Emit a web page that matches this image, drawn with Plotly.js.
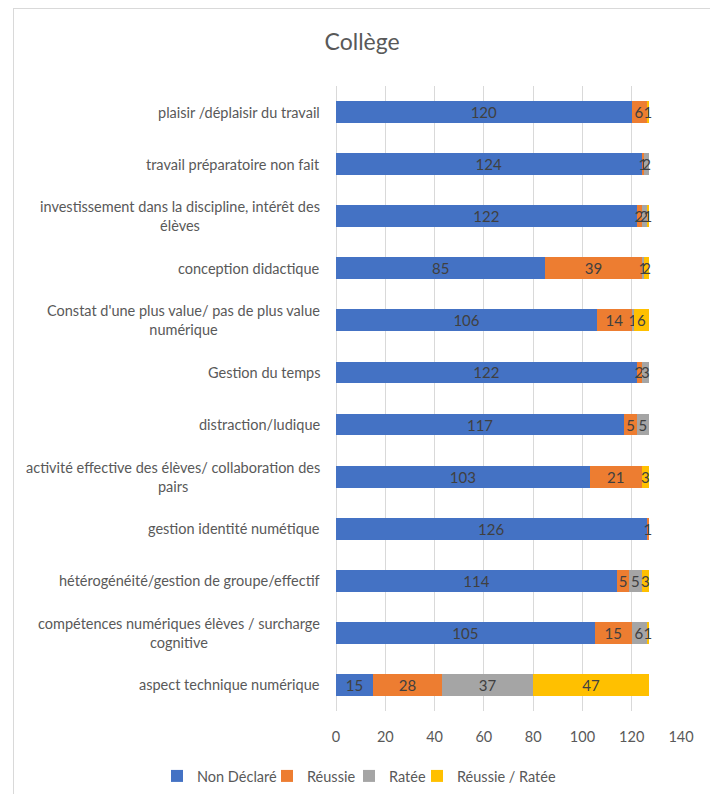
<!DOCTYPE html>
<html>
<head>
<meta charset="utf-8">
<script src="https://cdn.plot.ly/plotly-3.0.1.min.js"></script>
<style>
  html, body { margin: 0; padding: 0; background: #fff; }
  #frame { position: absolute; left: 13px; top: 8px; width: 760px; height: 840px;
           border-left: 1px solid #d9d9d9; border-top: 1px solid #d9d9d9; }
  #chart { position: absolute; left: 0; top: 0; width: 710px; height: 794px; }
</style>
</head>
<body>
<div id="frame"></div>
<div id="chart"></div>
<script>
// Categories, top to bottom
const categories = [
  "plaisir /déplaisir du travail",
  "travail préparatoire non fait",
  "investissement dans la discipline, intérêt des<br>élèves",
  "conception didactique",
  "Constat d'une plus value/ pas de plus value<br>numérique",
  "Gestion du temps",
  "distraction/ludique",
  "activité effective des élèves/ collaboration des<br>pairs",
  "gestion identité numétique",
  "hétérogénéité/gestion de groupe/effectif",
  "compétences numériques élèves / surcharge<br>cognitive",
  "aspect technique numérique"
];
const nonDeclare     = [120, 124, 122, 85, 106, 122, 117, 103, 126, 114, 105, 15];
const reussie        = [6,   1,   2,   39, 14,  2,   5,   21,  1,   5,   15,  28];
const ratee          = [0,   2,   2,   1,  1,   3,   5,   0,   0,   5,   6,   37];
const reussieRatee   = [1,   0,   1,   2,  6,   0,   0,   3,   0,   3,   1,   47];
const seriesNames = ["Non Déclaré", "Réussie", "Ratée", "Réussie / Ratée"];
const seriesColors = ["#4472C4", "#ED7D31", "#A5A5A5", "#FFC000"];
const xTicks = [0, 20, 40, 60, 80, 100, 120, 140];

const FONT = "Lato, Liberation Sans, Arial, sans-serif";
const allSeries = [nonDeclare, reussie, ratee, reussieRatee];
const ids = categories.map((c, i) => "c" + i);
const legendIds = ["legend", "legend2", "legend3", "legend4"];
const legendPx = [157, 267, 349, 417];   // left edge of each legend entry, in page pixels

const traces = allSeries.map((vals, k) => ({
  type: "bar",
  orientation: "h",
  name: seriesNames[k],
  legend: legendIds[k],
  x: vals,
  y: ids,
  marker: { color: seriesColors[k] },
  text: vals.map(String),
  textposition: "inside",
  insidetextanchor: "middle",
  textangle: 0,
  textfont: { family: FONT, size: 15, color: "#404040" },
  hoverinfo: "x+name"
}));

const annotations = categories.map((c, i) => ({
  x: 0, xref: "paper", xanchor: "right", xshift: -14,
  y: ids[i], yref: "y", yanchor: "middle",
  text: c, showarrow: false, align: "center",
  font: { family: FONT, size: 14.5, color: "#595959" }
}));

const layout = {
  width: 710, height: 794,
  paper_bgcolor: "rgba(0,0,0,0)",
  plot_bgcolor: "rgba(0,0,0,0)",
  margin: { l: 336, r: 29, t: 86, b: 83, autoexpand: false },
  barmode: "stack",
  bargap: 0.58,
  title: {
    text: "Collège",
    font: { family: FONT, size: 23, color: "#595959" },
    x: 0.51, xref: "container", xanchor: "center",
    y: 1 - 42 / 794, yref: "container", yanchor: "middle"
  },
  xaxis: {
    range: [0, 140],
    tickvals: xTicks,
    ticktext: xTicks.map(String),
    showgrid: true, gridcolor: "#d9d9d9", gridwidth: 1,
    zeroline: true, zerolinecolor: "#d9d9d9", zerolinewidth: 1,
    showline: false, ticks: "",
    ticklabelstandoff: 15,
    tickfont: { family: FONT, size: 14.5, color: "#595959" },
    fixedrange: true
  },
  yaxis: {
    type: "category",
    autorange: "reversed",
    showticklabels: false,
    showgrid: false, zeroline: false, showline: false, ticks: "",
    fixedrange: true
  },
  showlegend: true,
  uniformtext: { mode: "show", minsize: 15 },
  annotations: annotations
};

legendIds.forEach((id, k) => {
  layout[id] = {
    orientation: "h",
    x: (legendPx[k] - 336) / 345, xref: "paper", xanchor: "left",
    y: -(776 - 711) / 625, yref: "paper", yanchor: "middle",
    font: { family: FONT, size: 14.5, color: "#595959" },
    bgcolor: "rgba(0,0,0,0)",
    itemwidth: 30
  };
});

Plotly.newPlot("chart", traces, layout, { displayModeBar: false, staticPlot: true });
</script>
</body>
</html>
